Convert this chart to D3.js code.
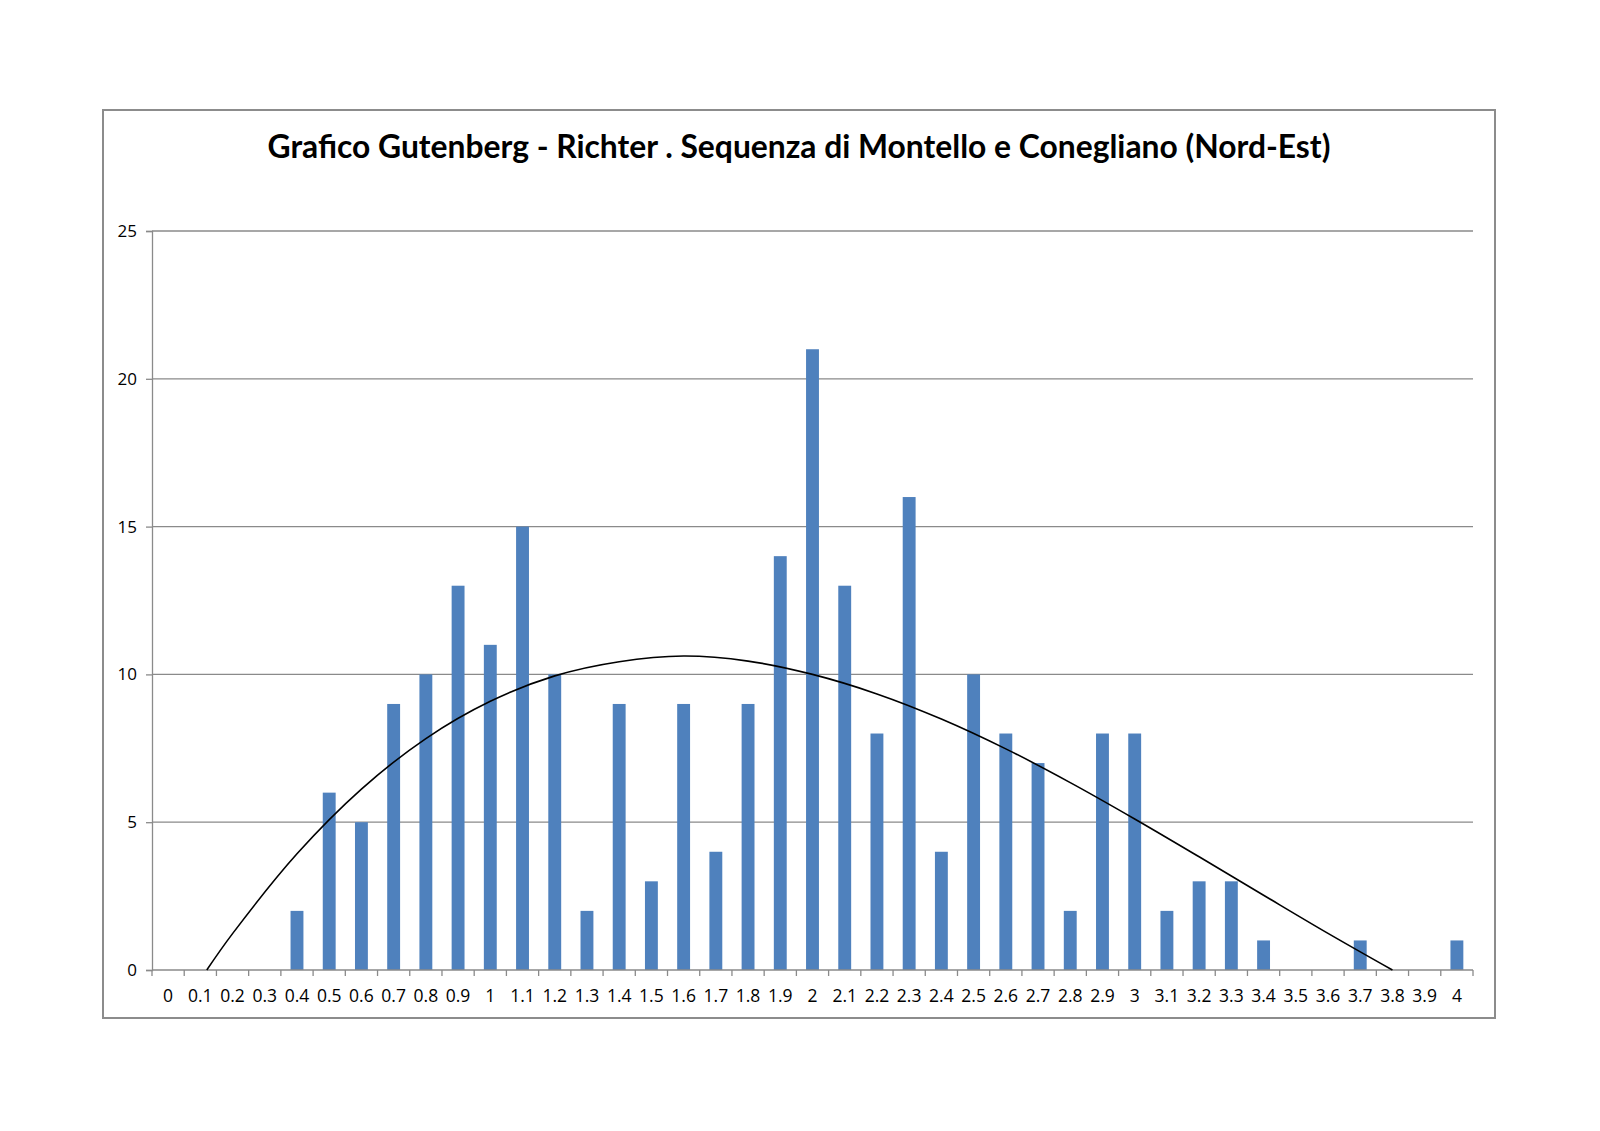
<!DOCTYPE html>
<html><head><meta charset="utf-8">
<script src="https://cdn.jsdelivr.net/npm/d3@7"></script>
<style>html,body{margin:0;padding:0;background:#fff;}svg{display:block;}</style>
</head><body>
<svg id="c" width="1600" height="1131"></svg>
<script>
const title = "Grafico Gutenberg - Richter . Sequenza di Montello e Conegliano (Nord-Est)";
const categories = ["0","0.1","0.2","0.3","0.4","0.5","0.6","0.7","0.8","0.9","1","1.1","1.2","1.3","1.4","1.5","1.6","1.7","1.8","1.9","2","2.1","2.2","2.3","2.4","2.5","2.6","2.7","2.8","2.9","3","3.1","3.2","3.3","3.4","3.5","3.6","3.7","3.8","3.9","4"];
const counts = [0,0,0,0,2,6,5,9,10,13,11,15,10,2,9,3,9,4,9,14,21,13,8,16,4,10,8,7,2,8,8,2,3,3,1,0,0,1,0,0,1];
const yTicks = [0,5,10,15,20,25];
// trendline (magnitude, count)
const trendM = [0.12,0.2,0.4,0.6,0.8,1.0,1.2,1.4,1.6,1.8,2.0,2.2,2.4,2.6,2.8,3.0,3.2,3.4,3.6,3.8];
const trendV = [0,1.23,3.93,6.12,7.83,9.09,9.95,10.43,10.62,10.45,10.0,9.34,8.49,7.48,6.34,5.11,3.83,2.53,1.24,0];

const svg = d3.select("#c");
const L = 152, R = 1473, T = 231, B = 970;

svg.append("rect").attr("x",103).attr("y",110).attr("width",1392).attr("height",908)
  .attr("fill","#fff").attr("stroke","#8c8c8c").attr("stroke-width",2);

svg.append("text").attr("x",799).attr("y",158).attr("text-anchor","middle")
  .attr("font-family","Lato, 'Open Sans', sans-serif").attr("font-weight","bold")
  .attr("font-size",31.8).attr("fill","#000").text(title);

const x = d3.scaleBand().domain(categories).range([L,R]).paddingInner(0).paddingOuter(0);
const y = d3.scaleLinear().domain([0,25]).range([B,T]);

// gridlines
svg.append("g").selectAll("line").data(yTicks.filter(d=>d>0)).join("line")
  .attr("x1",L).attr("x2",R).attr("y1",d=>y(d)).attr("y2",d=>y(d))
  .attr("stroke","#8a8a8a").attr("stroke-width",1.3);

// y axis
const yAxis = d3.axisLeft(y).tickValues(yTicks).tickSize(6).tickPadding(9).tickFormat(d3.format("d"));
const gy = svg.append("g").attr("transform",`translate(${L},0)`).call(yAxis);
gy.select(".domain").attr("stroke","#8a8a8a").attr("stroke-width",1.3);
gy.selectAll(".tick line").attr("stroke","#8a8a8a").attr("stroke-width",1.3);
gy.selectAll(".tick text").attr("font-family","'Open Sans', sans-serif").attr("font-size",17).attr("fill","#000");

// bars
const bw = x.bandwidth()/2.5;
svg.append("g").selectAll("rect").data(counts).join("rect")
  .attr("x",(d,i)=>x(categories[i])+x.bandwidth()/2-bw/2)
  .attr("width",bw)
  .attr("y",d=>y(d)).attr("height",d=>B-y(d))
  .attr("fill","#4f81bd");

// x axis
const gx = svg.append("g").attr("transform",`translate(0,${B})`);
gx.append("line").attr("x1",L).attr("x2",R).attr("stroke","#8a8a8a").attr("stroke-width",1.3);
const bounds = categories.map(c=>x(c)).concat([R]);
gx.selectAll("line.tk").data(bounds).join("line").attr("class","tk")
  .attr("x1",d=>d).attr("x2",d=>d).attr("y1",0).attr("y2",6)
  .attr("stroke","#8a8a8a").attr("stroke-width",1.3);
gx.selectAll("text").data(categories).join("text")
  .attr("x",d=>x(d)+x.bandwidth()/2).attr("y",32).attr("text-anchor","middle")
  .attr("font-family","'Open Sans', sans-serif").attr("font-size",17.5).attr("fill","#000")
  .text(d=>d);

// trendline
const xm = d3.scaleLinear().domain([0,4]).range([x("0")+x.bandwidth()/2, x("4")+x.bandwidth()/2]);
const line = d3.line().x((d,i)=>xm(trendM[i])).y(d=>y(d)).curve(d3.curveCatmullRom);
svg.append("path").datum(trendV).attr("d",line).attr("fill","none")
  .attr("stroke","#000").attr("stroke-width",1.6);
</script>
</body></html>
